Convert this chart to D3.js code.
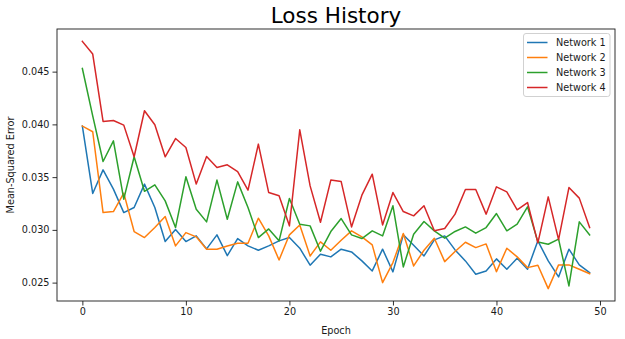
<!DOCTYPE html>
<html>
<head>
<meta charset="utf-8">
<script src="https://cdn.jsdelivr.net/npm/d3@7"></script>
<style>
  html, body { margin: 0; padding: 0; background: #fff; }
  svg { display: block; font-family: "DejaVu Sans", sans-serif; }
</style>
</head>
<body>
<svg id="chart" width="625" height="339"></svg>
<script>
const epochs = d3.range(0, 50);
const seriesNames = ["Network 1", "Network 2", "Network 3", "Network 4"];
const network1 = [0.03984,0.03345,0.03569,0.03386,0.03164,0.03212,0.03434,0.03212,0.02889,0.03003,
  0.02889,0.02943,0.02820,0.02953,0.02756,0.02918,0.02848,0.02807,0.02848,0.02896,
  0.02927,0.02826,0.02665,0.02769,0.02744,0.02817,0.02791,0.02706,0.02611,0.02817,
  0.02602,0.02953,0.02855,0.02753,0.02905,0.02943,0.02810,0.02706,0.02580,0.02611,
  0.02725,0.02627,0.02731,0.02627,0.02896,0.02706,0.02554,0.02817,0.02668,0.02595];
const network2 = [0.03984,0.03930,0.03164,0.03174,0.03348,0.02984,0.02927,0.03022,0.03126,0.02848,
  0.02974,0.02934,0.02817,0.02817,0.02848,0.02874,0.02874,0.03111,0.02943,0.02715,
  0.02953,0.03047,0.02753,0.02886,0.02807,0.02902,0.02991,0.02934,0.02858,0.02500,
  0.02690,0.02965,0.02658,0.02807,0.02921,0.02699,0.02795,0.02883,0.02832,0.02867,
  0.02604,0.02826,0.02744,0.02642,0.02665,0.02443,0.02668,0.02668,0.02627,0.02585];
const network3 = [0.04530,0.04080,0.03648,0.03844,0.03291,0.03693,0.03366,0.03427,0.03275,0.03022,
  0.03503,0.03196,0.03076,0.03472,0.03101,0.03455,0.03212,0.02927,0.03009,0.02896,
  0.03297,0.03054,0.03038,0.02798,0.02984,0.03107,0.02953,0.02918,0.02991,0.02943,
  0.03228,0.02649,0.02959,0.03079,0.02991,0.02921,0.02985,0.03028,0.02969,0.03022,
  0.03155,0.02991,0.03054,0.03218,0.02886,0.02864,0.02912,0.02469,0.03076,0.02953];
const network4 = [0.04787,0.04667,0.04028,0.04037,0.03993,0.03693,0.04129,0.03996,0.03693,0.03866,
  0.03781,0.03434,0.03695,0.03591,0.03617,0.03553,0.03377,0.03813,0.03354,0.03323,
  0.03038,0.03949,0.03417,0.03072,0.03472,0.03458,0.03028,0.03329,0.03528,0.03047,
  0.03354,0.03174,0.03133,0.03228,0.02991,0.03013,0.03149,0.03382,0.03382,0.03149,
  0.03408,0.03360,0.03190,0.03259,0.02877,0.03313,0.02908,0.03401,0.03301,0.03022];
const xTicks = [0, 10, 20, 30, 40, 50];
const yTicks = [0.025, 0.030, 0.035, 0.040, 0.045];
const titleText = "Loss History";
const xLabel = "Epoch";
const yLabel = "Mean-Squared Error";

const allSeries = [network1, network2, network3, network4];
const colors = ["#1f77b4", "#ff7f0e", "#2ca02c", "#d62728"];

const svg = d3.select("#chart");
const mLeft = 57, mRight = 615, mTop = 29, mBottom = 301;

const xMin = 0, xMax = epochs.length - 1;
const xPad = (xMax - xMin) * 0.05;
const x = d3.scaleLinear().domain([xMin - xPad, xMax + xPad]).range([mLeft, mRight]);

const allVals = allSeries.flat();
const yMin = d3.min(allVals), yMax = d3.max(allVals);
const yPad = (yMax - yMin) * 0.05;
const y = d3.scaleLinear().domain([yMin - yPad, yMax + yPad]).range([mBottom, mTop]);

// axes
const xAxis = svg.append("g")
  .attr("transform", `translate(0,${mBottom})`)
  .call(d3.axisBottom(x).tickValues(xTicks).tickFormat(d3.format("d")).tickSizeOuter(0).tickSize(4.5).tickPadding(3));
const yAxis = svg.append("g")
  .attr("transform", `translate(${mLeft},0)`)
  .call(d3.axisLeft(y).tickValues(yTicks).tickFormat(d3.format(".3f")).tickSizeOuter(0).tickSize(4.5).tickPadding(3));
[xAxis, yAxis].forEach(a => {
  a.select(".domain").remove();
  a.selectAll("text").attr("font-family", "DejaVu Sans").attr("font-size", "9.7px").attr("fill", "#1a1a1a");
  a.selectAll("line").attr("stroke", "#1a1a1a").attr("stroke-width", 0.9);
});

// lines
const clipId = "plotclip";
svg.append("clipPath").attr("id", clipId).append("rect")
  .attr("x", mLeft).attr("y", mTop).attr("width", mRight - mLeft).attr("height", mBottom - mTop);
const line = d3.line().x((d, i) => x(epochs[i])).y(d => y(d));
const g = svg.append("g").attr("clip-path", `url(#${clipId})`);
allSeries.forEach((s, k) => {
  g.append("path").datum(s)
    .attr("fill", "none").attr("stroke", colors[k]).attr("stroke-width", 1.5)
    .attr("stroke-linejoin", "round").attr("stroke-linecap", "square")
    .attr("d", line);
});

// frame
svg.append("rect").attr("x", mLeft).attr("y", mTop).attr("width", mRight - mLeft).attr("height", mBottom - mTop)
  .attr("fill", "none").attr("stroke", "#1a1a1a").attr("stroke-width", 0.9);

// title & labels
const cx = (mLeft + mRight) / 2;
svg.append("text").attr("x", cx).attr("y", 23).attr("text-anchor", "middle")
  .attr("font-size", "21.5px").attr("fill", "#000").text(titleText);
svg.append("text").attr("x", cx).attr("y", 334).attr("text-anchor", "middle")
  .attr("font-size", "9.7px").attr("fill", "#1a1a1a").text(xLabel);
svg.append("text").attr("transform", `translate(14,${(mTop + mBottom) / 2}) rotate(-90)`)
  .attr("text-anchor", "middle").attr("font-size", "9.7px").attr("fill", "#1a1a1a").text(yLabel);

// legend
const lg = svg.append("g");
lg.append("rect").attr("x", 523.5).attr("y", 33.5).attr("width", 86.5).attr("height", 63)
  .attr("rx", 2.5).attr("fill", "#fff").attr("fill-opacity", 0.8).attr("stroke", "#cccccc").attr("stroke-width", 0.9);
seriesNames.forEach((n, k) => {
  const yy = 42.5 + k * 15;
  lg.append("line").attr("x1", 527).attr("x2", 547.5).attr("y1", yy).attr("y2", yy)
    .attr("stroke", colors[k]).attr("stroke-width", 1.5);
  lg.append("text").attr("x", 556).attr("y", yy + 3.5).attr("font-size", "9.7px").attr("fill", "#1a1a1a").text(n);
});
</script>
</body>
</html>
